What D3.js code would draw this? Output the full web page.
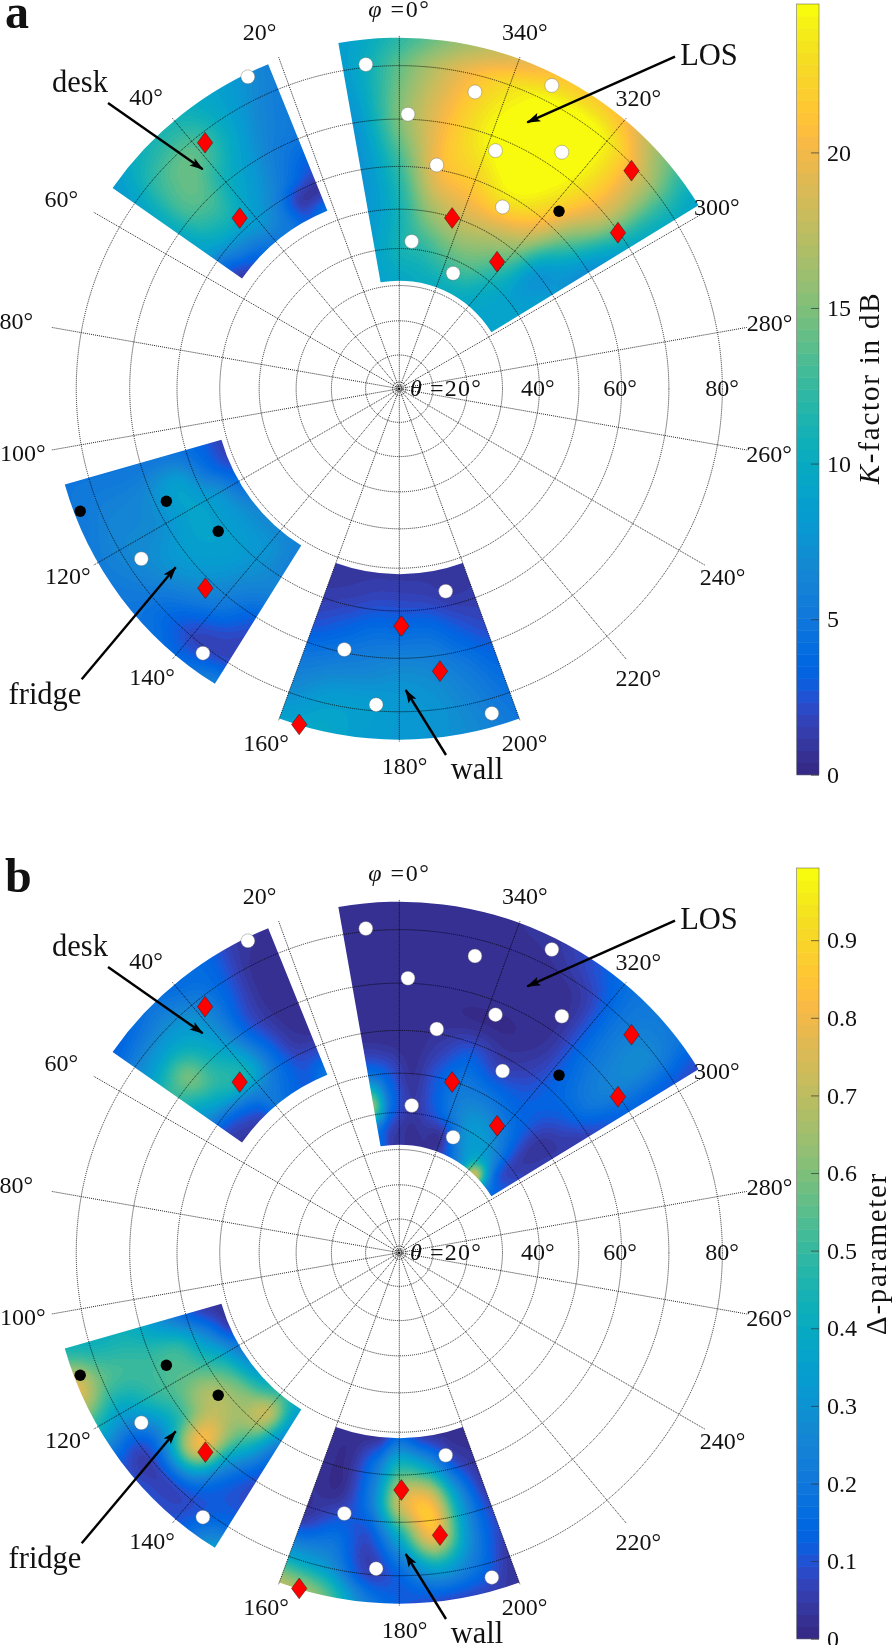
<!DOCTYPE html>
<html><head><meta charset="utf-8">
<script src="https://cdn.jsdelivr.net/npm/d3@7"></script>
<style>
html,body{margin:0;padding:0;background:#fff;}
#wrap{position:relative;width:892px;height:1645px;overflow:hidden;}
canvas,svg{position:absolute;left:0;top:0;}
text{font-family:"Liberation Serif",serif;fill:#111;}
</style></head><body><div id="wrap"><canvas id="c" width="892" height="1645"></canvas><svg id="s" width="892" height="1645"></svg></div>
<script>
// ---- axes ----
const phiTicks = d3.range(0,360,20);
const phiLabelAngle = [0,21.4,41,60.7,80,99.7,119.5,139.4,159.4,180.8,199.5,219.6,239.8,260,280,299.8,320.6,340.6];
const phiLabelRadius = [380,383,386,387.6,389,382,381,380,379,377,375.5,375,374,375.5,376,366,376.6,378];
const thetaTicks = [10,20,30,40,50,60,70,80];
const thetaLabels = [20,40,60,80];
const centerRings = [1,2];
const thetaMax = 85;
const kTicks = [0,5,10,15,20];
const kMax = 24.77;
const dTicks = [0,0.1,0.2,0.3,0.4,0.5,0.6,0.7,0.8,0.9];
const dMax = 0.993;
const parula = ["#352a87","#363093","#36369f","#353dad","#3243ba","#2b4ac7","#2053d4","#0f5cdd","#0363e1","#0268e1","#046de0","#0871de","#0d75dc","#1079da","#127dd8","#1481d6","#1485d4","#1389d2","#108ed2","#0c93d2","#0998d1","#079cd0","#069fcd","#06a3ca","#06a6c6","#07a9c2","#0aacbe","#0fafb9","#15b1b4","#1db3af","#25b5a9","#2eb7a4","#38b99e","#42bb98","#4dbc92","#59bd8c","#65be86","#71bf80","#7cbf7b","#87bf77","#92bf73","#9cbf6f","#a5be6b","#aebe67","#b7bd63","#c0bc60","#c8bc5d","#d1bb59","#d9ba56","#e1b952","#e9b94e","#f1b94a","#f8ba44","#fdbe3d","#ffc337","#fec832","#fccd2e","#fad32a","#f7d826","#f5de21","#f4e41d","#f4eb18","#f6f214","#f9fb0e"];

// ---- measurement markers [phi, theta] ----
const whitePoints = [[5.9,80.5],[345.7,77],[333.3,82.8],[358.2,71],[338,67.4],[325.5,73.4],[350.5,61],[330.4,57],[355.2,42],[335,36.6],
 [25.9,84],[123.4,77.5],[143.4,81.1],[192.9,56.7],[168.1,69.4],[175.8,78.9],[195.9,82.5]];
const blackPoints = [[318,63.6],[111,83.2],[115.8,67.8],[128.2,61.8]];
const redPoints = [[313.2,79.2],[342.8,49.8],[305.5,69.8],[322.4,45.2],[38.3,78.3],[43.1,62.5],[135.8,71.7],[180.5,63.3],[188.2,73.1],[163.4,84.6]];

// ---- sector grids ----
const losPhiK = [10,0,-10,-20,-30,-40,-50,-58.5];
const losThetaK = [85,80,70,60,50,40,31];
const losK = [
 [8.5,12,16,19,21.5,20.5,14.5,9],
 [8.5,14,19,23,25,24,17,10],
 [7.5,15,20.5,24.5,26,24,18,9.5],
 [7.5,12.5,20,22,24,21,13,7],
 [8,11,16,18,17.5,15,8,8],
 [9,11,12,13.5,13.5,11,9,9],
 [9,9.5,10,10,10,9.5,9,9]];
const deskPhi = [22,28,34,40,45,50,55];
const deskTheta = [85,78,71,63,58,53];
const deskK = [
 [6,8,9.5,11,11,10,8],
 [5.5,7,10,13.5,14,12.5,9.5],
 [5,6,8.5,11,13.5,13,10],
 [2.5,4.5,7,9,10.5,10,8.5],
 [1,1.5,5.5,7.5,7,6,4],
 [4.5,3,5,5,4,2.5,1]];
const fridgePhi = [106,113,120,127,134,141,148];
const fridgeTheta = [85,79.5,72,64,57,51];
const fridgeK = [
 [5,5,5.5,5,4.5,4,6.5],
 [5,6,6.5,6,4,1.8,2],
 [5,6.5,7,8,7,5,2.5],
 [5,8.5,9,9,8.5,7,6],
 [3.5,4.5,7.5,8,8,7.5,6],
 [1.5,2,4,6,6.5,6.5,6]];
const wallPhi = [160,167,174,180,187,194,200];
const wallTheta = [85,79.5,73,66,58,51];
const wallK = [
 [9,9.5,8.5,8,7.5,6.5,5],
 [7,8.5,8.5,8,7.5,6,4.5],
 [5,6,6.5,7,6.5,5,3.5],
 [2.5,3.5,4.5,4.5,4.5,3,2],
 [1.2,1.5,2,2,1.8,1.2,1.2],
 [1,1,1,1,1,1,1]];

const losPhiD = [10,4,-4,-12,-20,-28,-36,-44,-52,-58.5];
const losThetaD = [85,78,70,64,57,50,42.5,36,31];
const losD = [
 [.02,.02,.02,.02,.03,.05,.12,.2,.2,.08],
 [.02,.02,.02,.02,.02,.02,.05,.2,.27,.12],
 [.02,.02,.02,.02,.02,.02,.04,.18,.25,.14],
 [.02,.02,.02,.02,.02,.02,.05,.15,.2,.1],
 [.04,.03,.02,.06,.12,.07,.09,.13,.1,.05],
 [.2,.12,.03,.11,.2,.2,.17,.13,.04,.05],
 [.6,.2,.05,.1,.2,.3,.3,.2,.06,.06],
 [.2,.08,.03,.04,.05,.25,.35,.35,.12,.1],
 [.15,.05,.03,.03,.04,.15,.35,.75,.3,.15]];
const deskD = [
 [.03,.05,.15,.15,.18,.15,.12],
 [.02,.03,.14,.27,.33,.33,.3],
 [.02,.03,.12,.32,.45,.58,.5],
 [.03,.06,.2,.42,.45,.38,.3],
 [.1,.1,.18,.25,.2,.14,.1],
 [.2,.12,.15,.2,.08,.05,.04]];
const fridgeD = [
 [.45,.78,.45,.12,.1,.12,.35],
 [.42,.55,.35,.1,.12,.1,.15],
 [.42,.5,.5,.45,.78,.25,.08],
 [.25,.48,.55,.68,.68,.5,.18],
 [.08,.25,.42,.55,.62,.7,.32],
 [.03,.05,.2,.3,.4,.5,.35]];
const wallD = [
 [.7,.6,.25,.12,.08,.07,.03],
 [.35,.3,.07,.15,.35,.2,.04],
 [.06,.15,.1,.4,.8,.3,.08],
 [.03,.04,.25,.72,.8,.3,.05],
 [.02,.03,.2,.45,.35,.1,.03],
 [.02,.02,.03,.15,.05,.02,.02]];

// ---- annotations ----
const notes = [
 {t:"desk",x:80,y:83,a:[108,103,202.7,169.3]},
 {t:"LOS",x:709,y:56,a:[675,56.7,527.3,122.3]},
 {t:"fridge",x:45,y:695,a:[81.7,679.3,175.7,567.3]},
 {t:"wall",x:477,y:770,a:[446,755,405.7,690]}
];

// ---- layout ----
const CX = 399.3, CY = 388.7, PANEL_DY = 864;
const rScale = d3.scaleLinear().domain([0,1]).range([0,385]);
const R = th => rScale(Math.tan(th*Math.PI/360));
const svg = d3.select("#s");
const ctx = document.getElementById("c").getContext("2d");

svg.append("defs").append("marker").attr("id","ah").attr("markerUnits","userSpaceOnUse")
  .attr("viewBox","0 0 14 10").attr("refX",13).attr("refY",5)
  .attr("markerWidth",14).attr("markerHeight",10).attr("orient","auto")
  .append("path").attr("d","M0,0.5L14,5L0,9.5L3,5Z").attr("fill","#000");

function catmull(p0,p1,p2,p3,t){
  return p1 + 0.5*t*(p2-p0 + t*(2*p0-5*p1+4*p2-p3 + t*(3*(p1-p2)+p3-p0)));
}
function sampler(grid){
  const nr=grid.length,nc=grid[0].length;
  const g=(i,j)=>grid[Math.max(0,Math.min(nr-1,i))][Math.max(0,Math.min(nc-1,j))];
  return (fr,fc)=>{
    const i=Math.min(nr-2,Math.floor(fr)),j=Math.min(nc-2,Math.floor(fc));
    const tr=fr-i,tc=fc-j,row=[];
    for(let a=-1;a<=2;a++) row.push(catmull(g(i+a,j-1),g(i+a,j),g(i+a,j+1),g(i+a,j+2),tc));
    return catmull(row[0],row[1],row[2],row[3],tr);
  };
}

function drawSector(phis,thetas,grid,color,cy,edge){
  const [p0,p1,r0,r1]=edge;
  const maxV=color.domain()[1];
  const lut=color.range().map(c=>{const q=d3.rgb(c);return [q.r,q.g,q.b];});
  const pIdx=d3.scaleLinear().domain(phis).range(d3.range(phis.length)).clamp(true);
  const tIdx=d3.scaleLinear().domain(thetas).range(d3.range(thetas.length)).clamp(true);
  const samp=sampler(grid);
  const off=document.createElement("canvas");off.width=892;off.height=1645;
  const oc=off.getContext("2d");
  const x0=Math.floor(CX-r1-2),y0=Math.floor(cy-r1-2),w=Math.ceil(2*r1+4),h=Math.ceil(2*r1+4);
  const im=oc.createImageData(w,h);
  const a0=Math.min(p0,p1)-1.5,a1=Math.max(p0,p1)+1.5;
  for(let y=0;y<h;y++)for(let x=0;x<w;x++){
    const dx=x0+x+0.5-CX,dy=y0+y+0.5-cy,r=Math.hypot(dx,dy);
    if(r<r0-2||r>r1+2)continue;
    let phi=Math.atan2(-dx,-dy)*180/Math.PI;
    if(a1>100&&phi<0)phi+=360;
    if(phi<a0||phi>a1)continue;
    const th=2*Math.atan(r/385)*180/Math.PI;
    const v=Math.max(0,Math.min(maxV,samp(tIdx(th),pIdx(phi))));
    const c=lut[Math.min(63,Math.floor(v/maxV*64))];
    const k=(y*w+x)*4;
    im.data[k]=c[0];im.data[k+1]=c[1];im.data[k+2]=c[2];im.data[k+3]=255;
  }
  oc.putImageData(im,x0,y0);
  ctx.save();
  ctx.translate(CX,cy);
  ctx.beginPath();
  d3.arc().context(ctx)({innerRadius:r0,outerRadius:r1,
     startAngle:-p0*Math.PI/180,endAngle:-p1*Math.PI/180});
  ctx.clip();
  ctx.translate(-CX,-cy);
  ctx.drawImage(off,0,0);
  ctx.restore();
}

const pol=(phi,r,cy)=>[CX-r*Math.sin(phi*Math.PI/180),cy-r*Math.cos(phi*Math.PI/180)];

function panel(dy,letter,color,sectors,ticks,fmt,maxV,zeroY,labelNodes,labelX,labelY){
  const cy=CY+dy;
  sectors.forEach(s=>drawSector(s.phi,s.theta,s.v,color,cy,s.edge));
  const g=svg.append("g");
  const gridG=g.append("g").attr("fill","none").attr("stroke","#000").attr("stroke-width",0.85).attr("stroke-dasharray","1 1");
  gridG.selectAll("circle").data(thetaTicks.concat(centerRings)).join("circle")
    .attr("cx",CX).attr("cy",cy).attr("r",R);
  gridG.selectAll("line").data(phiTicks).join("line")
    .attr("x1",CX).attr("y1",cy)
    .attr("x2",d=>pol(d,R(thetaMax),cy)[0]).attr("y2",d=>pol(d,R(thetaMax),cy)[1]);

  const lab=g.append("g").attr("font-size",24).attr("text-anchor","middle");
  lab.selectAll("text.phi").data(phiTicks).join("text").attr("class","phi")
    .attr("x",(d,i)=>pol(phiLabelAngle[i],phiLabelRadius[i],cy)[0])
    .attr("y",(d,i)=>pol(phiLabelAngle[i],phiLabelRadius[i],cy)[1]+8)
    .each(function(d){
      const t=d3.select(this);
      if(d===0){t.attr("letter-spacing",1.5);t.append("tspan").attr("font-style","italic").text("φ");t.append("tspan").text(" =0°");}
      else t.text(d+"°");
    });
  const thX={20:446,40:537.7,60:620,80:722};
  lab.selectAll("text.th").data(thetaLabels).join("text").attr("class","th")
    .attr("x",d=>thX[d]).attr("y",cy+7)
    .each(function(d){
      const t=d3.select(this);
      if(d===20){t.attr("letter-spacing",1.2);t.append("tspan").attr("font-style","italic").text("θ");t.append("tspan").text(" =20°");}
      else t.text(d+"°");
    });

  // markers
  const mk=g.append("g");
  mk.selectAll("circle.w").data(whitePoints).join("circle").attr("class","w")
    .attr("cx",d=>pol(d[0],R(d[1]),cy)[0]).attr("cy",d=>pol(d[0],R(d[1]),cy)[1])
    .attr("r",7).attr("fill","#fff").attr("stroke","#666").attr("stroke-width",0.4);
  mk.selectAll("circle.b").data(blackPoints).join("circle").attr("class","b")
    .attr("cx",d=>pol(d[0],R(d[1]),cy)[0]).attr("cy",d=>pol(d[0],R(d[1]),cy)[1])
    .attr("r",5.7).attr("fill","#000");
  mk.selectAll("path.r").data(redPoints).join("path").attr("class","r")
    .attr("d","M0,-10.4L7.7,0L0,10.4L-7.7,0Z").attr("fill","#f00").attr("stroke","#222").attr("stroke-width",0.5)
    .attr("transform",d=>{const p=pol(d[0],R(d[1]),cy);return `translate(${p[0]},${p[1]})`;});

  // annotations
  const an=g.append("g");
  an.selectAll("line").data(notes).join("line")
    .attr("x1",d=>d.a[0]).attr("y1",d=>d.a[1]+dy).attr("x2",d=>d.a[2]).attr("y2",d=>d.a[3]+dy)
    .attr("stroke","#000").attr("stroke-width",2.4).attr("marker-end","url(#ah)");
  an.selectAll("text").data(notes).join("text").attr("text-anchor","middle").attr("font-size",30.5)
    .attr("x",d=>d.x).attr("y",d=>d.y+dy+9).text(d=>d.t);

  // panel letter
  g.append("text").attr("x",5).attr("y",28+dy).attr("font-size",48).attr("font-weight","bold").attr("fill","#000").text(letter);

  // colourbar
  const barX=796.7,barW=22.3,top=4+dy;
  const y=d3.scaleLinear().domain([0,maxV]).range([zeroY,top]);
  const bar=g.append("g");
  bar.selectAll("rect").data(parula).join("rect")
    .attr("x",barX).attr("width",barW)
    .attr("y",(d,i)=>y((i+1)/64*maxV)).attr("height",(d,i)=>y(i/64*maxV)-y((i+1)/64*maxV)+0.5)
    .attr("fill",d=>d);
  bar.append("rect").attr("x",barX).attr("y",top).attr("width",barW).attr("height",zeroY-top)
    .attr("fill","none").attr("stroke","#555").attr("stroke-width",0.5);
  const ax=bar.append("g").attr("transform",`translate(${barX+barW},0)`)
    .call(d3.axisRight(y).tickValues(ticks).tickFormat(fmt).tickSize(-8).tickPadding(8));
  ax.select(".domain").remove();
  ax.selectAll("line").attr("stroke","#333").attr("stroke-width",0.7);
  ax.selectAll("text").attr("font-family","Liberation Serif").attr("font-size",24).attr("fill","#111");
  const lb=g.append("text").attr("transform",`translate(${labelX},${labelY}) rotate(-90)`)
    .attr("text-anchor","middle").attr("font-size",29);
  labelNodes(lb);
}

const colorK=d3.scaleQuantize().domain([0,kMax]).range(parula);
const colorD=d3.scaleQuantize().domain([0,dMax]).range(parula);

panel(0,"a",colorK,[
 {phi:losPhiK,theta:losThetaK,v:losK,edge:[10,-58.5,108,351]},
 {phi:deskPhi,theta:deskTheta,v:deskK,edge:[22,55,192,350]},
 {phi:fridgePhi,theta:fridgeTheta,v:fridgeK,edge:[106,148,185,348]},
 {phi:wallPhi,theta:wallTheta,v:wallK,edge:[160,200,185.5,351]}
],kTicks,d3.format("d"),kMax,774.7,t=>{
  t.attr("letter-spacing",1.8);
  t.append("tspan").attr("font-style","italic").text("K");t.append("tspan").text("-factor in dB");
},879,388);

panel(PANEL_DY,"b",colorD,[
 {phi:losPhiD,theta:losThetaD,v:losD,edge:[10,-58.5,108,351]},
 {phi:deskPhi,theta:deskTheta,v:deskD,edge:[22,55,192,350]},
 {phi:fridgePhi,theta:fridgeTheta,v:fridgeD,edge:[106,148,185,348]},
 {phi:wallPhi,theta:wallTheta,v:wallD,edge:[160,200,185.5,351]}
],dTicks,d=>d===0?"0":d3.format(".1f")(d),dMax,1638.7,t=>{
  t.attr("letter-spacing",1.7).text("Δ-parameter");
},886,1253.5);
</script></body></html>
